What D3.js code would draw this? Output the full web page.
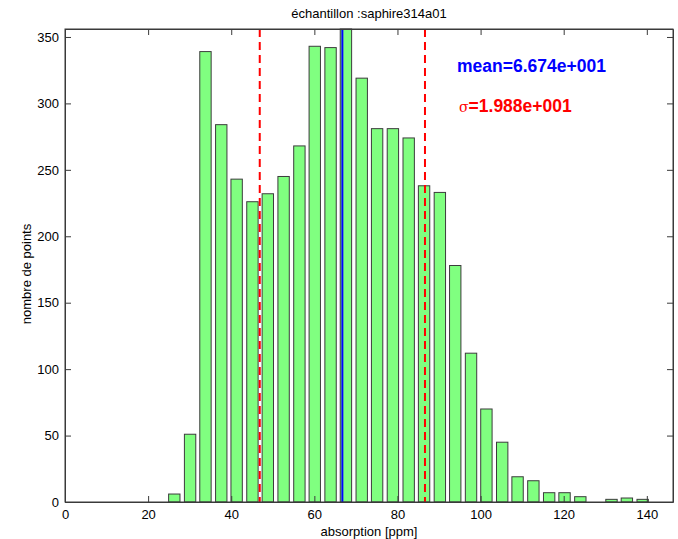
<!DOCTYPE html>
<html>
<head>
<meta charset="utf-8">
<script src="https://cdn.jsdelivr.net/npm/d3@7"></script>
<style>
  html, body { margin: 0; padding: 0; background: #fff; }
  svg { display: block; font-family: "Liberation Sans", Arial, sans-serif; }
</style>
</head>
<body>
<svg id="chart" width="678" height="539"></svg>
<script>
// ---- data ----
const binCenters = [26.3, 30.1, 33.8, 37.6, 41.3, 45.1, 48.8, 52.6, 56.4, 60.1, 63.9, 67.6, 71.4, 75.1, 78.9, 82.7, 86.4, 90.2, 93.9, 97.7, 101.4, 105.2, 108.9, 112.7, 116.5, 120.2, 124.0, 127.7, 131.5, 135.2, 139.0];
const counts = [6, 51, 339, 284, 243, 226, 232, 245, 268, 343, 342, 356, 319, 281, 281, 274, 238, 233, 178, 112, 70, 45, 19, 16, 7, 7, 4, 0, 2, 3, 2];
const xTicks = [0, 20, 40, 60, 80, 100, 120, 140];
const yTicks = [0, 50, 100, 150, 200, 250, 300, 350];
const meanValue = 66.74;
const sigmaValue = 19.88;
const titleText = "échantillon :saphire314a01";
const xLabel = "absorption [ppm]";
const yLabel = "nombre de points";
const meanText = "mean=6.674e+001";
const sigmaText = "=1.988e+001";

(function () {
// ---- layout ----
const L = 65, R = 673, T = 29, B = 502;
const svg = d3.select("#chart");
const x = d3.scaleLinear().domain([0, 146.3]).range([L, R]);
const y = d3.scaleLinear().domain([0, 356]).range([B, T]);
const binStep = binCenters[1] - binCenters[0];
const barW = x(binStep * 0.72) - x(0);

// bars
svg.append("g").selectAll("rect")
  .data(binCenters.map((c, i) => ({c, v: counts[i]})).filter(d => d.v > 0))
  .join("rect")
  .attr("x", d => x(d.c) - barW / 2)
  .attr("y", d => y(d.v))
  .attr("width", barW)
  .attr("height", d => y(0) - y(d.v))
  .attr("fill", "#80ff80")
  .attr("stroke", "#3c3c3c")
  .attr("stroke-width", 1);

// mean +/- sigma lines
[meanValue - sigmaValue, meanValue + sigmaValue].forEach(v => {
  svg.append("line")
    .attr("x1", x(v)).attr("x2", x(v))
    .attr("y1", T).attr("y2", B)
    .attr("stroke", "#ff0000").attr("stroke-width", 2)
    .attr("stroke-dasharray", "8,5");
});
svg.append("line")
  .attr("x1", x(meanValue)).attr("x2", x(meanValue))
  .attr("y1", T).attr("y2", B)
  .attr("stroke", "#0000ff").attr("stroke-width", 2);

// axes (box with inward ticks)
const axisColor = "#3a3a3a";
const tickLen = 6;
const gBottom = svg.append("g").attr("transform", `translate(0,${B})`)
  .call(d3.axisBottom(x).tickValues(xTicks).tickSizeInner(-tickLen).tickSizeOuter(0).tickPadding(8));
const gTop = svg.append("g").attr("transform", `translate(0,${T})`)
  .call(d3.axisTop(x).tickValues(xTicks).tickSizeInner(-tickLen).tickSizeOuter(0).tickFormat(""));
const gLeft = svg.append("g").attr("transform", `translate(${L},0)`)
  .call(d3.axisLeft(y).tickValues(yTicks).tickSizeInner(-tickLen).tickSizeOuter(0).tickPadding(6));
const gRight = svg.append("g").attr("transform", `translate(${R},0)`)
  .call(d3.axisRight(y).tickValues(yTicks).tickSizeInner(-tickLen).tickSizeOuter(0).tickFormat(""));
[gBottom, gTop, gLeft, gRight].forEach(g => {
  g.select(".domain").attr("stroke", axisColor);
  g.selectAll(".tick line").attr("stroke", axisColor);
  g.selectAll("text").attr("fill", "#000").style("font-size", "13px")
    .style("font-family", "'Liberation Sans', Arial, sans-serif");
});
svg.append("rect").attr("x", L).attr("y", T).attr("width", R - L).attr("height", B - T)
  .attr("fill", "none").attr("stroke", axisColor).attr("stroke-width", 1);

// title & labels
svg.append("text").attr("x", (L + R) / 2).attr("y", 18).attr("text-anchor", "middle")
  .style("font-size", "13px").text(titleText);
svg.append("text").attr("x", (L + R) / 2).attr("y", 536).attr("text-anchor", "middle")
  .style("font-size", "13px").text(xLabel);
svg.append("text").attr("transform", `translate(31,274) rotate(-90)`)
  .attr("text-anchor", "middle").style("font-size", "13px").text(yLabel);

// annotations
svg.append("text").attr("x", 457).attr("y", 72)
  .style("font-size", "17.5px").style("font-weight", "bold").attr("fill", "#0000ff").text(meanText);
const sig = svg.append("text").attr("x", 459).attr("y", 112).attr("fill", "#ff0000");
sig.append("tspan").style("font-size", "14px").style("font-family", "'DejaVu Serif', serif").text("σ");
sig.append("tspan").style("font-size", "17.5px").style("font-weight", "bold").text(sigmaText);
})();
</script>
</body>
</html>
